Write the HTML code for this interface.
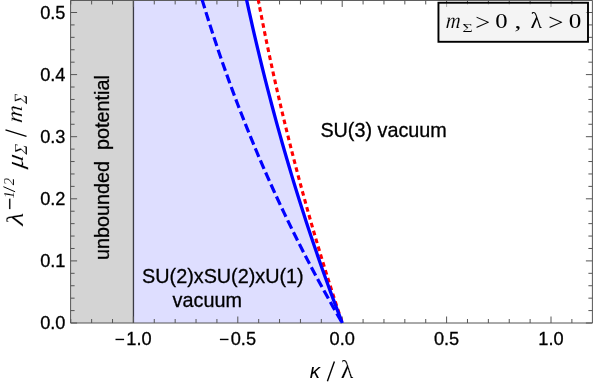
<!DOCTYPE html>
<html><head><meta charset="utf-8"><title>plot</title>
<style>
html,body{margin:0;padding:0;background:#fff;}
svg{display:block;will-change:transform;}
text{font-family:"Liberation Sans",sans-serif;fill:#000;}
.b{stroke:#000;stroke-width:0.3px;}
.s{font-family:"Liberation Serif",serif;}
.i{font-family:"Liberation Serif",serif;font-style:italic;}
.ai{font-style:italic;}
</style></head><body>
<svg width="593" height="387" viewBox="0 0 593 387">
<defs><clipPath id="c"><rect x="70.6" y="0" width="521.8" height="323.0"/></clipPath><clipPath id="c2"><rect x="70.6" y="0" width="521.8" height="327.0"/></clipPath></defs>
<rect x="0" y="0" width="593" height="387" fill="#fff"/>

<rect x="70.6" y="0" width="62.80" height="323.0" fill="#d4d4d4"/>
<polygon clip-path="url(#c)" points="133.40,323.0 133.40,-20 242.38,-20.00 244.01,-12.20 245.67,-4.41 247.36,3.39 249.07,11.18 250.81,18.98 252.58,26.77 254.37,34.57 256.19,42.36 258.04,50.16 259.91,57.95 261.81,65.75 263.75,73.55 265.70,81.34 267.69,89.14 269.71,96.93 271.76,104.73 273.83,112.52 275.94,120.32 278.08,128.11 280.25,135.91 282.45,143.70 284.68,151.50 286.94,159.30 289.23,167.09 291.56,174.89 293.92,182.68 296.31,190.48 298.73,198.27 301.19,206.07 303.69,213.86 306.21,221.66 308.77,229.45 311.37,237.25 314.00,245.05 316.66,252.84 319.37,260.64 322.10,268.43 324.88,276.23 327.69,284.02 330.53,291.82 333.42,299.61 336.34,307.41 339.30,315.20 342.30,323.00" fill="#dedeff"/>
<line x1="133.45" y1="0" x2="133.45" y2="323.0" stroke="#3a3a44" stroke-width="1.3"/>
<path d="M70.76,323.0v-4M70.76,0.45v4M91.64,323.0v-4M91.64,0.45v4M112.52,323.0v-4M112.52,0.45v4M133.40,323.0v-6.5M133.40,0.45v6.5M154.28,323.0v-4M154.28,0.45v4M175.16,323.0v-4M175.16,0.45v4M196.04,323.0v-4M196.04,0.45v4M216.92,323.0v-4M216.92,0.45v4M237.80,323.0v-6.5M237.80,0.45v6.5M258.68,323.0v-4M258.68,0.45v4M279.56,323.0v-4M279.56,0.45v4M300.44,323.0v-4M300.44,0.45v4M321.32,323.0v-4M321.32,0.45v4M342.20,323.0v-6.5M342.20,0.45v6.5M363.08,323.0v-4M363.08,0.45v4M383.96,323.0v-4M383.96,0.45v4M404.84,323.0v-4M404.84,0.45v4M425.72,323.0v-4M425.72,0.45v4M446.60,323.0v-6.5M446.60,0.45v6.5M467.48,323.0v-4M467.48,0.45v4M488.36,323.0v-4M488.36,0.45v4M509.24,323.0v-4M509.24,0.45v4M530.12,323.0v-4M530.12,0.45v4M551.00,323.0v-6.5M551.00,0.45v6.5M571.88,323.0v-4M571.88,0.45v4M70.6,323.00h6.5M592.4,323.00h-6.5M70.6,310.58h4M592.4,310.58h-4M70.6,298.16h4M592.4,298.16h-4M70.6,285.74h4M592.4,285.74h-4M70.6,273.32h4M592.4,273.32h-4M70.6,260.90h6.5M592.4,260.90h-6.5M70.6,248.48h4M592.4,248.48h-4M70.6,236.06h4M592.4,236.06h-4M70.6,223.64h4M592.4,223.64h-4M70.6,211.22h4M592.4,211.22h-4M70.6,198.80h6.5M592.4,198.80h-6.5M70.6,186.38h4M592.4,186.38h-4M70.6,173.96h4M592.4,173.96h-4M70.6,161.54h4M592.4,161.54h-4M70.6,149.12h4M592.4,149.12h-4M70.6,136.70h6.5M592.4,136.70h-6.5M70.6,124.28h4M592.4,124.28h-4M70.6,111.86h4M592.4,111.86h-4M70.6,99.44h4M592.4,99.44h-4M70.6,87.02h4M592.4,87.02h-4M70.6,74.60h6.5M592.4,74.60h-6.5M70.6,62.18h4M592.4,62.18h-4M70.6,49.76h4M592.4,49.76h-4M70.6,37.34h4M592.4,37.34h-4M70.6,24.92h4M592.4,24.92h-4M70.6,12.50h6.5M592.4,12.50h-6.5M70.6,0.08h4M592.4,0.08h-4" stroke="#555" stroke-width="1" fill="none"/>
<path d="M70.6,0.45H592.4V323.0H70.6Z" stroke="#555" stroke-width="1" fill="none"/>
<g clip-path="url(#c2)" fill="none">
<polyline points="254.63,-20.00 256.04,-12.20 257.48,-4.41 258.95,3.39 260.44,11.18 261.96,18.98 263.51,26.77 265.08,34.57 266.67,42.36 268.30,50.16 269.95,57.95 271.63,65.75 273.33,73.55 275.07,81.34 276.82,89.14 278.61,96.93 280.42,104.73 282.26,112.52 284.13,120.32 286.02,128.11 287.94,135.91 289.89,143.70 291.87,151.50 293.87,159.30 295.90,167.09 297.96,174.89 300.04,182.68 302.15,190.48 304.29,198.27 306.46,206.07 308.65,213.86 310.87,221.66 313.12,229.45 315.40,237.25 317.71,245.05 320.04,252.84 322.40,260.64 324.79,268.43 327.21,276.23 329.65,284.02 332.13,291.82 334.63,299.61 337.16,307.41 339.71,315.20 342.30,323.00" stroke="#ff0000" stroke-width="3.1" stroke-dasharray="4.65 3.57" stroke-dashoffset="-2.9"/>
<polyline points="196.30,-20.00 198.56,-12.20 200.87,-4.41 203.22,3.39 205.61,11.18 208.05,18.98 210.53,26.77 213.05,34.57 215.62,42.36 218.24,50.16 220.90,57.95 223.61,65.75 226.36,73.55 229.16,81.34 232.01,89.14 234.91,96.93 237.86,104.73 240.86,112.52 243.91,120.32 247.01,128.11 250.16,135.91 253.36,143.70 256.61,151.50 259.91,159.30 263.27,167.09 266.68,174.89 270.15,182.68 273.67,190.48 277.24,198.27 280.87,206.07 284.56,213.86 288.30,221.66 292.10,229.45 295.96,237.25 299.87,245.05 303.84,252.84 307.87,260.64 311.96,268.43 316.11,276.23 320.32,284.02 324.60,291.82 328.93,299.61 333.32,307.41 337.78,315.20 342.30,323.00" stroke="#0000ff" stroke-width="3.2" stroke-dasharray="9.2 3.97" stroke-dashoffset="-7.2"/>
<polyline points="242.38,-20.00 244.01,-12.20 245.67,-4.41 247.36,3.39 249.07,11.18 250.81,18.98 252.58,26.77 254.37,34.57 256.19,42.36 258.04,50.16 259.91,57.95 261.81,65.75 263.75,73.55 265.70,81.34 267.69,89.14 269.71,96.93 271.76,104.73 273.83,112.52 275.94,120.32 278.08,128.11 280.25,135.91 282.45,143.70 284.68,151.50 286.94,159.30 289.23,167.09 291.56,174.89 293.92,182.68 296.31,190.48 298.73,198.27 301.19,206.07 303.69,213.86 306.21,221.66 308.77,229.45 311.37,237.25 314.00,245.05 316.66,252.84 319.37,260.64 322.10,268.43 324.88,276.23 327.69,284.02 330.53,291.82 333.42,299.61 336.34,307.41 339.30,315.20 342.30,323.00" stroke="#0000ff" stroke-width="3.3"/>
</g>
<rect x="438.45" y="2.75" width="149.55" height="39.05" fill="#ebebeb" fill-opacity="0.55" stroke="#000" stroke-width="1.9"/>
<text class="i" transform="matrix(0.2026 0 -0.0162 0.2234 445.39 27.90)" font-size="100" stroke="#fff" stroke-width="0.47" paint-order="fill stroke">m</text>
<text class="s" transform="matrix(0.1827 0 -0.0000 0.1267 462.17 31.50)" font-size="100" stroke="#fff" stroke-width="0.97" paint-order="fill stroke">Σ</text>
<text class="s" transform="matrix(0.2652 0 -0.0000 0.2383 475.37 30.05)" font-size="100">&gt;</text>
<text class="s" transform="matrix(0.2471 0 -0.0000 0.2148 495.37 27.89)" font-size="100">0</text>
<text class="s" transform="matrix(0.2733 0 -0.0000 0.2097 514.38 27.55)" font-size="100">,</text>
<text class="s" transform="matrix(0.2374 0 -0.0000 0.2298 530.61 28.10)" font-size="100">λ</text>
<text class="s" transform="matrix(0.2695 0 -0.0000 0.2383 548.35 30.05)" font-size="100">&gt;</text>
<text class="s" transform="matrix(0.2518 0 -0.0000 0.2148 568.66 27.89)" font-size="100">0</text>
<text class="b" x="139.00" y="344.7" font-size="18.2" text-anchor="middle">1.0</text>
<path d="M115.50,339.45h8.6" stroke="#000" stroke-width="1.4"/>
<text class="b" x="243.40" y="344.7" font-size="18.2" text-anchor="middle">0.5</text>
<path d="M219.90,339.45h8.6" stroke="#000" stroke-width="1.4"/>
<text class="b" x="342.20" y="344.7" font-size="18.2" text-anchor="middle">0.0</text>
<text class="b" x="446.60" y="344.7" font-size="18.2" text-anchor="middle">0.5</text>
<text class="b" x="551.00" y="344.7" font-size="18.2" text-anchor="middle">1.0</text>
<text class="b" x="65.5" y="329.40" font-size="18.2" text-anchor="end">0.0</text>
<text class="b" x="65.5" y="267.30" font-size="18.2" text-anchor="end">0.1</text>
<text class="b" x="65.5" y="205.20" font-size="18.2" text-anchor="end">0.2</text>
<text class="b" x="65.5" y="143.10" font-size="18.2" text-anchor="end">0.3</text>
<text class="b" x="65.5" y="81.00" font-size="18.2" text-anchor="end">0.4</text>
<text class="b" x="65.5" y="18.90" font-size="18.2" text-anchor="end">0.5</text>
<text class="b" x="320.4" y="137.3" font-size="19.8">SU(3) vacuum</text>
<text class="b" x="142.1" y="283.3" font-size="19.8">SU(2)xSU(2)xU(1)</text>
<text class="b" x="172.6" y="307.4" font-size="19.8">vacuum</text>
<text class="b" transform="translate(108.5,260) rotate(-90)" font-size="19.8" xml:space="preserve">unbounded  potential</text>
<g transform="translate(22.5,226.5) rotate(-90)">
<text class="s" transform="matrix(0.2854 0 -0.0571 0.2383 -0.73 0.30)" font-size="100" stroke="#fff" stroke-width="0.57" paint-order="fill stroke">λ</text>
<text class="i" transform="matrix(0.2267 0 -0.0000 0.3400 14.85 -1.05)" font-size="100" stroke="#fff" stroke-width="0.71" paint-order="fill stroke">−</text>
<text class="i" transform="matrix(0.1399 0 -0.0000 0.1394 28.21 -8.30)" font-size="100" stroke="#fff" stroke-width="0.72" paint-order="fill stroke">1</text>
<text class="i" transform="matrix(0.1487 0 -0.0000 0.1494 41.30 -8.30)" font-size="100" stroke="#fff" stroke-width="0.67" paint-order="fill stroke">2</text>
<text class="i" transform="matrix(0.2645 0 -0.0397 0.2415 57.84 0.01)" font-size="100" stroke="#fff" stroke-width="0.59" paint-order="fill stroke">μ</text>
<text class="i" transform="matrix(0.1705 0 -0.0170 0.1832 71.54 4.30)" font-size="100" stroke="#fff" stroke-width="0.68" paint-order="fill stroke">Σ</text>
<text class="i" transform="matrix(0.2403 0 -0.0240 0.2255 103.35 -0.30)" font-size="100" stroke="#fff" stroke-width="0.64" paint-order="fill stroke">m</text>
<text class="i" transform="matrix(0.1596 0 -0.0160 0.1878 122.34 4.30)" font-size="100" stroke="#fff" stroke-width="0.69" paint-order="fill stroke">Σ</text>
</g>
<path d="M15.1,191.8L3.4,186.7" stroke="#000" stroke-width="1" fill="none"/>
<path d="M26.5,136.3L5.5,129.8" stroke="#000" stroke-width="1.3" fill="none"/>
<text class="ai" transform="matrix(0.2048 0 -0.0000 0.2066 309.84 377.90)" font-size="100">κ</text>
<text class="s" transform="matrix(0.2593 0 -0.0000 0.2426 340.75 378.10)" font-size="100" stroke="#fff" stroke-width="0.60" paint-order="fill stroke">λ</text>
<path d="M327.4,381.3L334.4,361.6" stroke="#000" stroke-width="1.4" fill="none"/>
</svg></body></html>
